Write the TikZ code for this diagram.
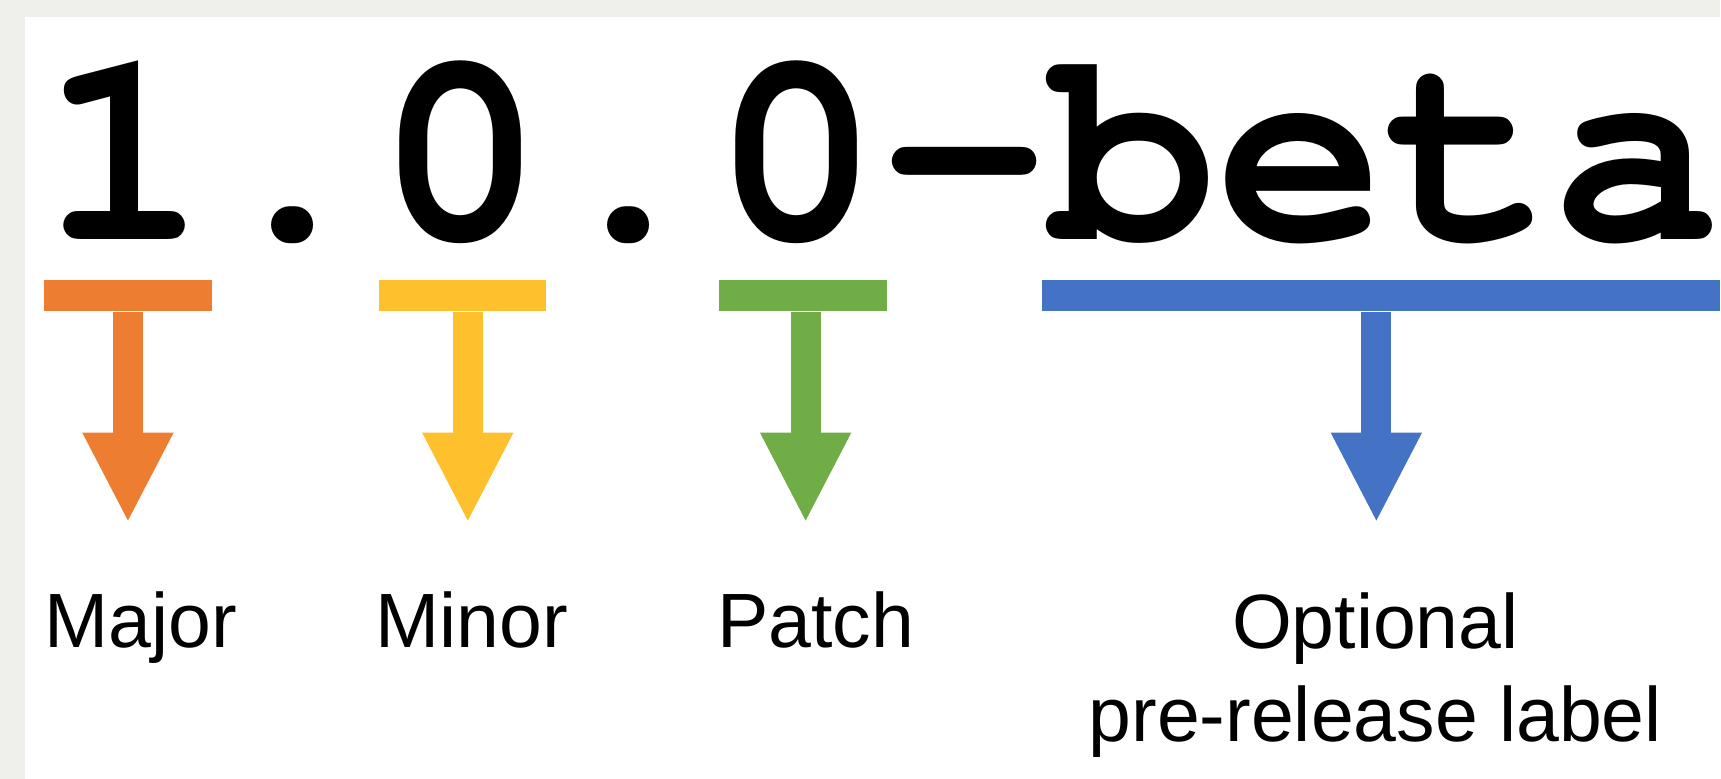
\documentclass[tikz,border=0pt]{standalone}
\usepackage[T1,TU]{fontenc}
\usepackage{fontspec}
\setmainfont{Liberation Sans}
\usepackage{xcolor}
\usetikzlibrary{arrows.meta,positioning}

\definecolor{bgc}{RGB}{239,240,235}
\definecolor{majorc}{RGB}{237,125,49}
\definecolor{minorc}{RGB}{255,192,46}
\definecolor{patchc}{RGB}{112,173,71}
\definecolor{prec}{RGB}{68,114,196}

\newcommand{\vermono}{\fontencoding{T1}\fontfamily{pcr}\fontseries{b}\fontshape{n}\fontsize{79.7}{80}\selectfont}

\begin{document}
\begin{tikzpicture}[x=0.01cm, y=-0.01cm,
        segbar/.style={rectangle, inner sep=0pt, minimum height=0.31cm},
        partlabel/.style={inner sep=0pt, anchor=base, align=center, font=\fontsize{21.9}{26.6}\selectfont},
        downarrow/.style={line width=0.3cm, -{Triangle[length=0.9cm, width=0.84cm]}}
    ]

    % Page background
    \fill[bgc] (0,0) rectangle (1721,779);
    \fill[white] (25,17) rectangle (1721,779);

    % Version string
    \node[inner sep=0pt, anchor=base, font=\vermono] (version) at (881,240) {1.0.0-beta};

    % Bars under each part
    \node[segbar, fill=majorc, minimum width=1.68cm] (majorbar) at (128,295.5) {};
    \node[segbar, fill=minorc, minimum width=1.67cm] (minorbar) at (462.5,295.5) {};
    \node[segbar, fill=patchc, minimum width=1.68cm] (patchbar) at (803,295.5) {};
    \node[segbar, fill=prec, minimum width=6.78cm] (prebar) at (1382,295.5) {};

    % Labels
    \node[partlabel] (majorlbl) at (141,648) {Major};
    \node[partlabel] (minorlbl) at (472,648) {Minor};
    \node[partlabel] (patchlbl) at (816,648) {Patch};
    \node[partlabel] (prelbl) at (1376,742) {Optional\\pre-release label};

    % Arrows from bars
    \coordinate (tips) at (0,523);
    \coordinate (majorstem) at (majorbar.south);
    \coordinate (minorstem) at ([xshift=0.055cm]minorbar.south);
    \coordinate (patchstem) at ([xshift=0.03cm]patchbar.south);
    \coordinate (prestem) at ([xshift=-0.05cm]prebar.south);

    \draw[downarrow, majorc] (majorstem) -- (majorstem |- tips);
    \draw[downarrow, minorc] (minorstem) -- (minorstem |- tips);
    \draw[downarrow, patchc] (patchstem) -- (patchstem |- tips);
    \draw[downarrow, prec] (prestem) -- (prestem |- tips);

\end{tikzpicture}
\end{document}
